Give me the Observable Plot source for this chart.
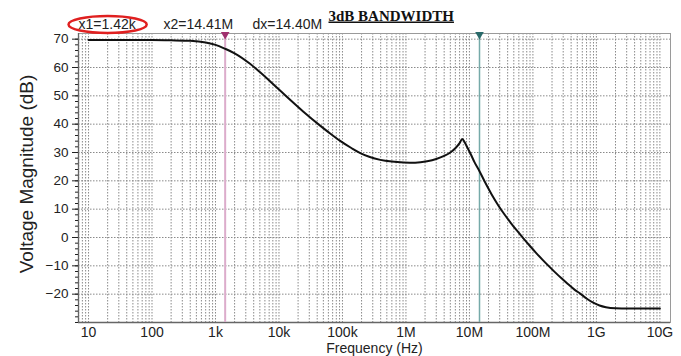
<!DOCTYPE html>
<html>
<head>
<meta charset="utf-8">
<script src="https://cdn.jsdelivr.net/npm/d3@7"></script>
<script src="https://cdn.jsdelivr.net/npm/@observablehq/plot@0.6"></script>
<style>
  html, body { margin: 0; padding: 0; background: #fff; }
</style>
</head>
<body>
<div id="chart"></div>
<script>
// Frequency response
const freqHz = [10, 30, 100, 200, 400, 700, 1000, 1420, 2000, 3500, 5000, 10000, 24000, 45000, 60000, 92000, 140000, 191000, 270000, 395000, 600000, 923000, 1400000, 2160000, 3000000, 4000000, 5000000, 6000000, 7000000, 7700000, 8500000, 9300000, 10500000, 12000000, 14400000, 17800000, 22400000, 28200000, 35500000, 44700000, 56200000, 70800000, 89100000, 112000000, 141000000, 178000000, 224000000, 282000000, 355000000, 447000000, 562000000, 708000000, 891000000, 1120000000, 1410000000, 2000000000, 3160000000, 10000000000];
const magDb = [69.7, 69.7, 69.7, 69.6, 69.4, 68.8, 68.0, 66.6, 65.0, 61.3, 58.4, 52.2, 44.5, 39.4, 37.2, 34.1, 31.5, 29.8, 28.4, 27.4, 26.8, 26.5, 26.4, 26.9, 27.7, 28.8, 30.0, 31.5, 33.3, 34.8, 33.4, 31.7, 29.4, 26.6, 23.4, 19.3, 15.2, 11.5, 8.2, 5.2, 2.4, -0.3, -2.9, -5.4, -7.8, -10.1, -12.3, -14.4, -16.4, -18.3, -19.9, -21.6, -23.0, -24.0, -24.6, -25.0, -25.1, -25.1];

// Cursors
const cursorNames = ["x1", "x2"];
const cursorHz = [1420, 14410000];

// Axis ticks
const xTickValues = [1e1, 1e2, 1e3, 1e4, 1e5, 1e6, 1e7, 1e8, 1e9, 1e10];
const xTickLabels = ["10", "100", "1k", "10k", "100k", "1M", "10M", "100M", "1G", "10G"];
const yTickValues = [-20, -10, 0, 10, 20, 30, 40, 50, 60, 70];
const xDomain = [6.95, 1.47e10];
const yDomain = [-30, 72];

// Header texts
const headerTexts = ["x1=1.42k", "x2=14.41M", "dx=14.40M"];
const titleText = "3dB BANDWIDTH";
const xLabel = "Frequency (Hz)";
const yLabel = "Voltage Magnitude (dB)";

const data = freqHz.map((f, i) => ({f, db: magDb[i]}));
const cursors = cursorHz.map((f, i) => ({name: cursorNames[i], f}));

// grid positions: 1..9 x each decade inside domain
const gridX = [];
for (let k = 0; k <= 10; k++) for (let m = 1; m <= 9; m++) {
  const v = m * Math.pow(10, k);
  if (v >= xDomain[0] && v <= xDomain[1]) gridX.push(v);
}
const gridY = d3.range(-20, 71, 10);
const minorY = d3.range(-30, 72, 2);
const labelOf = new Map(xTickValues.map((v, i) => [v, xTickLabels[i]]));

const plot = Plot.plot({
  width: 681,
  height: 356,
  marginLeft: 78,
  marginRight: 11,
  marginTop: 33,
  marginBottom: 34,
  style: {fontFamily: "'Liberation Sans', Arial, sans-serif", fontSize: "14px", color: "#222", background: "#fff", overflow: "visible"},
  x: {type: "log", domain: xDomain},
  y: {domain: yDomain},
  marks: [
    Plot.ruleX(gridX, {stroke: "#8a8a8a", strokeWidth: 1, strokeDasharray: "1.5,1.5"}),
    Plot.ruleY(gridY, {stroke: "#8a8a8a", strokeWidth: 1, strokeDasharray: "1.5,1.5"}),
    Plot.frame({stroke: "#9a9a9a", strokeWidth: 1}),
    Plot.ruleX([xDomain[0]], {stroke: "#666", strokeWidth: 1.3}),
    Plot.ruleY([yDomain[0]], {stroke: "#666", strokeWidth: 1.3}),
    Plot.axisX(xTickValues, {tickSize: 0, tickPadding: 5, fontSize: 14, tickFormat: d => labelOf.get(d), label: null}),
    Plot.axisY(yTickValues, {tickSize: 6, tickPadding: 4, fontSize: 13.5, label: null}),
    Plot.axisY(minorY, {tickSize: 3, tickFormat: () => "", label: null}),
    Plot.ruleX(cursors.slice(0, 1), {x: "f", stroke: "#dcaccb", strokeWidth: 2}),
    Plot.ruleX(cursors.slice(1, 2), {x: "f", stroke: "#76aaa9", strokeWidth: 1.5}),
    Plot.line(data, {x: "f", y: "db", stroke: "#111", strokeWidth: 2, curve: "monotone-x"}),
    Plot.dot(cursors.slice(0, 1), {x: "f", y: () => yDomain[1], symbol: "triangle", rotate: 180, r: 3.2, fill: "#a0306e", stroke: "none", dy: 1}),
    Plot.dot(cursors.slice(1, 2), {x: "f", y: () => yDomain[1], symbol: "triangle", rotate: 180, r: 3.2, fill: "#2a6a6a", stroke: "none", dy: 1}),
    Plot.text([headerTexts[0]], {frameAnchor: "top-left", textAnchor: "start", lineAnchor: "bottom", dx: 0, dy: -5, fontSize: 14, fill: "#222"}),
    Plot.text([headerTexts[1]], {frameAnchor: "top-left", textAnchor: "start", lineAnchor: "bottom", dx: 85, dy: -5, fontSize: 14, fill: "#222"}),
    Plot.text([headerTexts[2]], {frameAnchor: "top-left", textAnchor: "start", lineAnchor: "bottom", dx: 174, dy: -5, fontSize: 14, fill: "#222"}),
    Plot.text([titleText], {frameAnchor: "top-left", textAnchor: "start", lineAnchor: "bottom", dx: 250, dy: -13, fontSize: 15, fontWeight: "bold", fontFamily: "'Liberation Serif', 'Times New Roman', serif", fill: "#111"}),
    Plot.text([xLabel], {frameAnchor: "bottom", lineAnchor: "bottom", dy: 30.5, fontSize: 14, fill: "#222"}),
    Plot.text([yLabel], {frameAnchor: "left", textAnchor: "middle", lineAnchor: "middle", rotate: -90, dx: -52, dy: -4, fontSize: 19, fill: "#222"})
  ]
});

document.getElementById("chart").appendChild(plot);

// underline title and circle the x1 readout
const svg = d3.select(plot);
svg.selectAll("text").filter(function() { return this.textContent === titleText; })
  .style("text-decoration", "underline");
const x1Node = svg.selectAll("text").filter(function() { return this.textContent === headerTexts[0]; }).node();
if (x1Node) {
  const b = x1Node.getBBox();
  const ctm = x1Node.getCTM();
  const cx = b.x + b.width / 2 + (ctm ? ctm.e : 0);
  const cy = b.y + b.height / 2 + (ctm ? ctm.f : 0) + 1;
  svg.append("ellipse")
    .attr("cx", cx).attr("cy", cy)
    .attr("rx", b.width / 2 + 10).attr("ry", b.height / 2 + 0.5)
    .attr("fill", "none").attr("stroke", "#e02020").attr("stroke-width", 2.5);
}
</script>
</body>
</html>
